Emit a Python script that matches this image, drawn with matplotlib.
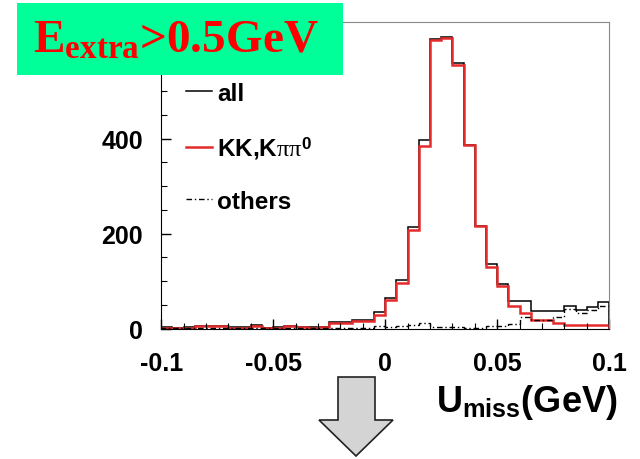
#U_miss distribution with E_extra > 0.5 GeV, all / KK,Kpipi0 / others

import matplotlib
matplotlib.use('Agg')
import matplotlib.pyplot as plt
from matplotlib.patches import Polygon, Rectangle
import numpy as np

plt.rcParams['mathtext.fontset'] = 'custom'
plt.rcParams['mathtext.rm'] = 'Liberation Serif:bold'
plt.rcParams['mathtext.it'] = 'Liberation Serif'
plt.rcParams['mathtext.sf'] = 'Liberation Sans:bold'
plt.rcParams['mathtext.bf'] = 'Liberation Sans:bold'

# 40 bins from -0.1 to 0.1 GeV
edges = np.linspace(-0.1, 0.1, 41)
all_counts = [3, 2, 3, 6, 6, 6, 3, 3, 8, 2,
              3, 6, 4, 3, 4, 14, 14, 19, 19, 36,
              65, 102, 214, 397, 610, 614, 558, 387, 217, 137,
              95, 58, 58, 38, 37, 37, 49, 40, 46, 57]
kk_counts = [2, 1, 2, 5, 5, 5, 2, 2, 6, 1,
             2, 5, 3, 2, 3, 12, 12, 17, 17, 30,
             61, 96, 207, 384, 607, 611, 554, 386, 216, 131,
             90, 48, 34, 19, 18, 12, 8, 7, 7, 8]
other_counts = [1, 1, 1, 1, 1, 1, 1, 1, 2, 1,
                1, 1, 1, 1, 1, 2, 2, 2, 2, 6,
                4, 6, 7, 13, 3, 3, 4, 1, 1, 6,
                5, 10, 24, 19, 19, 25, 41, 33, 39, 49]

fig = plt.figure(figsize=(6.4, 4.6), dpi=100)
ax = fig.add_axes([0.252, 0.283, 0.700, 0.667])

ax.stairs(all_counts, edges, color='black', lw=1.1, label='all')
ax.stairs(kk_counts, edges, color='#e42a2a', lw=1.8, label=r'KK,K$\pi\pi^{\mathsf{0}}$')
ax.stairs(other_counts, edges, color='black', lw=1.0, linestyle=(0, (4, 2, 1, 2)), label='others')

ax.set_xlim(-0.1, 0.1)
ax.set_ylim(0, 645)
ax.set_xticks([-0.1, -0.05, 0, 0.05, 0.1])
ax.set_xticklabels(['-0.1', '-0.05', '0', '0.05', '0.1'])
ax.set_xticks(np.arange(-0.1, 0.1001, 0.01), minor=True)
ax.set_yticks([0, 200, 400, 600])
ax.set_yticklabels(['0', '200', '400', ''])
ax.set_yticks(np.arange(0, 645, 50), minor=True)
ax.tick_params(which='both', direction='in', top=False, right=False)
ax.tick_params(which='major', length=7, width=1)
ax.tick_params(which='minor', length=4, width=0.8)
ax.tick_params(axis='y', pad=13)
ax.tick_params(axis='x', pad=16)
for lab in ax.get_xticklabels() + ax.get_yticklabels():
    lab.set_fontfamily('Liberation Sans')
    lab.set_fontweight('bold')
    lab.set_fontsize(18)
ax.spines['top'].set_color('#8a8a8a')
ax.spines['right'].set_color('#8a8a8a')

leg = ax.legend(loc='upper left', frameon=False,
                handlelength=1.05, handletextpad=0.22, labelspacing=1.2,
                borderaxespad=0.0, borderpad=0.0,
                prop={'family': 'Liberation Sans', 'weight': 'bold', 'size': 17.5})
leg.set_bbox_to_anchor((25 / 448, 0.805), transform=ax.transAxes)

fig.text(617 / 640, 1 - 412 / 460, r'U$_{\mathsf{miss}}$(GeV)', ha='right', va='baseline',
         fontfamily='Liberation Sans', fontweight='bold', fontsize=26)

# green title box
fig.add_artist(Rectangle((17 / 640, 1 - 76 / 460), 326 / 640, 72 / 460,
                         transform=fig.transFigure, facecolor='#00ff99', edgecolor='none'))
fig.text(176 / 640, 1 - 53 / 460, r'E$_{\mathrm{extra}}$>0.5GeV', ha='center', va='baseline',
         color='#ff0000', fontfamily='Liberation Serif', fontweight='bold', fontsize=34)

# grey down arrow
px = [(338, 378), (375, 378), (375, 421), (393, 421), (356, 457), (319, 421), (338, 421)]
arrow = Polygon([(x / 640, 1 - y / 460) for x, y in px], closed=True,
                transform=fig.transFigure, facecolor='#d4d4d4', edgecolor='#222222', lw=1.2)
fig.add_artist(arrow)

fig.savefig('out.png', dpi=100)
plt.close()
